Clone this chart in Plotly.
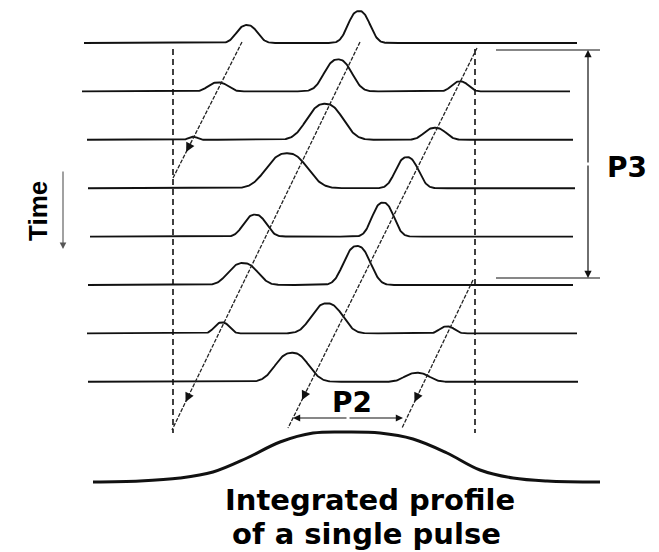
import numpy as np
import plotly.graph_objects as go

# ---------------- data ----------------
# successive single pulses (time runs downward); x = pulse longitude
row_x_start = [84, 82, 87, 88, 90, 88, 87, 88]
row_x_end = [577, 570, 573, 575, 573, 573, 577, 578]
# sub-pulses in each pulse: centre longitude, amplitude, half base width
sub_centre = [[247, 359], [218, 338, 460], [193, 325, 435], [287, 407],
              [255, 383], [243, 357], [222, 327, 447], [292, 417]]
sub_amp = [[18, 32], [9, 32, 10], [3, 36, 12], [35, 31],
           [22, 34], [22, 39], [11, 30, 7], [29, 9]]
sub_halfwidth = [[22, 23], [21, 29, 18], [10, 38, 23], [43, 24],
                 [24, 23], [31, 28], [16, 33, 16], [35, 26]]

# drift bands (start -> end) and where their arrow heads sit
drift_x0 = [242, 360, 477, 473]
drift_y0 = [42, 42, 48, 280]
drift_x1 = [173, 172, 288, 402]
drift_y1 = [178, 430, 428, 428]
drift_head_y = [152, 402, 400, 402]

# integrated profile of a single pulse (longitude, intensity)
prof_x = [93, 140, 180, 213, 247, 280, 313, 347, 380, 413, 447, 480, 513, 547, 600]
prof_h = [0, 1, 4, 10, 24, 40, 49, 50, 49, 43, 29, 12, 4, 1, 0]

# pulse window edges
window_x = [173, 475]

# periods
P2_from, P2_to = 293, 403
P3_from, P3_to = 50, 278

# ---------------- layout constants ----------------
ROW_TOP = 43
ROW_STEP = 48.4
PROF_BASE = 482
INK = "#111111"

fig = go.Figure()

# single-pulse traces
for i in range(len(row_x_start)):
    base = ROW_TOP + ROW_STEP * i
    x = np.linspace(row_x_start[i], row_x_end[i], 700)
    s = np.zeros_like(x)
    for c, a, h in zip(sub_centre[i], sub_amp[i], sub_halfwidth[i]):
        w = h / 1.65
        s += a * np.exp(-(np.abs(x - c) / w) ** 2.5)
    fig.add_trace(go.Scatter(x=x, y=base - s, mode="lines",
                             line=dict(color=INK, width=1.9),
                             hoverinfo="skip", showlegend=False))

# pulse window dashed verticals
for wx in window_x:
    fig.add_trace(go.Scatter(x=[wx, wx], y=[49, 433], mode="lines",
                             line=dict(color=INK, width=1.6, dash="6px,4px"),
                             hoverinfo="skip", showlegend=False))

# drift bands
for x0, y0, x1, y1, hy in zip(drift_x0, drift_y0, drift_x1, drift_y1, drift_head_y):
    fig.add_trace(go.Scatter(x=[x0, x1], y=[y0, y1], mode="lines",
                             line=dict(color="#222222", width=1.3, dash="4px,1.5px"),
                             hoverinfo="skip", showlegend=False))
    t = (hy - y0) / (y1 - y0)
    hx = x0 + t * (x1 - x0)
    dx = (x1 - x0) / (y1 - y0)
    fig.add_annotation(x=hx, y=hy, ax=hx - dx * 10, ay=hy - 10,
                       xref="x", yref="y", axref="x", ayref="y",
                       text="", showarrow=True, arrowhead=2, arrowsize=1.4,
                       arrowwidth=1.3, arrowcolor="#111111", standoff=0)

# integrated profile
fig.add_trace(go.Scatter(x=prof_x, y=[PROF_BASE - h for h in prof_h], mode="lines",
                         line=dict(color=INK, width=3, shape="spline", smoothing=1.0),
                         hoverinfo="skip", showlegend=False))

# P3 bracket
for yy in (P3_from, P3_to):
    fig.add_shape(type="line", x0=496, x1=600, y0=yy, y1=yy,
                  line=dict(color=INK, width=1.2), xref="x", yref="y")
mid3 = (P3_from + P3_to) / 2
for yy in (P3_from, P3_to):
    fig.add_annotation(x=588, y=yy, ax=588, ay=mid3, xref="x", yref="y",
                       axref="x", ayref="y", text="", showarrow=True,
                       arrowhead=2, arrowsize=1.2, arrowwidth=1.2,
                       arrowcolor=INK, standoff=0)
fig.add_annotation(x=627, y=167, text="<b>P3</b>", showarrow=False,
                   font=dict(family="DejaVu Sans", size=28, color="black"),
                   xref="x", yref="y")

# P2 arrow
mid2 = (P2_from + P2_to) / 2
for xx in (P2_from, P2_to):
    fig.add_annotation(x=xx, y=418, ax=mid2, ay=418, xref="x", yref="y",
                       axref="x", ayref="y", text="", showarrow=True,
                       arrowhead=2, arrowsize=1.2, arrowwidth=1.2,
                       arrowcolor=INK, standoff=0)
fig.add_annotation(x=352, y=402, text="<b>P2</b>", showarrow=False,
                   font=dict(family="DejaVu Sans", size=28, color="black"),
                   xref="x", yref="y")

# Time axis
fig.add_annotation(x=63, y=249, ax=63, ay=170, xref="x", yref="y",
                   axref="x", ayref="y", text="", showarrow=True,
                   arrowhead=2, arrowsize=1.2, arrowwidth=1.1,
                   arrowcolor="#555555", standoff=0)
fig.add_annotation(x=38, y=211, text="<b>Time</b>", textangle=-90, showarrow=False,
                   font=dict(family="Liberation Sans", size=26, color="black"),
                   xref="x", yref="y")

# caption
fig.add_annotation(x=370, y=500, text="<b>Integrated profile</b>", showarrow=False,
                   font=dict(family="DejaVu Sans", size=29, color="black"),
                   xref="x", yref="y")
fig.add_annotation(x=366, y=534, text="<b>of a single pulse</b>", showarrow=False,
                   font=dict(family="DejaVu Sans", size=29, color="black"),
                   xref="x", yref="y")

fig.update_layout(
    width=659, height=552, autosize=False,
    margin=dict(l=0, r=0, t=0, b=0),
    paper_bgcolor="white", plot_bgcolor="white",
    xaxis=dict(range=[0, 659], visible=False, fixedrange=True),
    yaxis=dict(range=[552, 0], visible=False, fixedrange=True),
    showlegend=False,
)

fig.write_html("out.html", config={"displayModeBar": False})
